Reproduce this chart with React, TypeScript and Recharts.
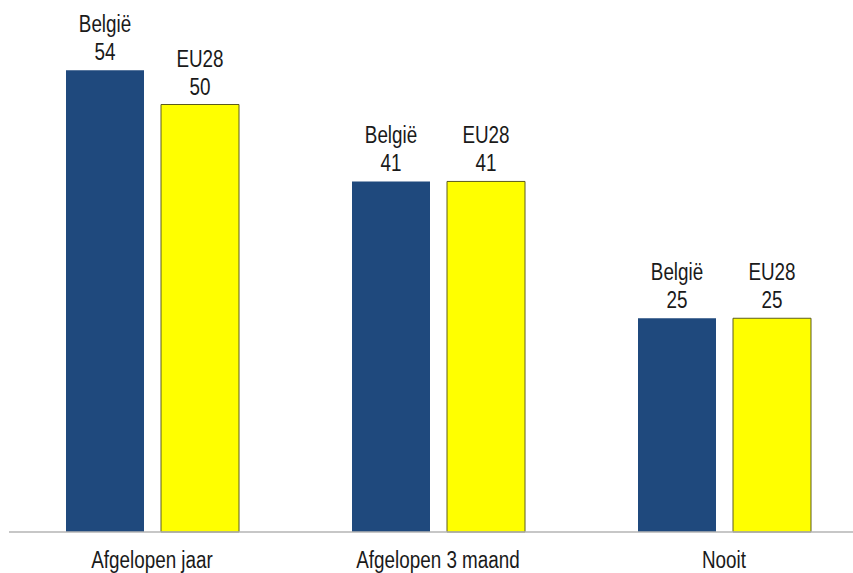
import { BarChart, Bar, XAxis, YAxis, LabelList } from "recharts";

const categories = ["Afgelopen jaar", "Afgelopen 3 maand", "Nooit"];
const belgie = [54, 41, 25];
const eu28 = [50, 41, 25];
const seriesNames = ["België", "EU28"];

// no narrow font installed: squeeze Liberation Sans horizontally instead
const FONT = '"Liberation Sans", Arial, sans-serif';
const NARROW = 0.82;
const FONT_SIZE = 23;
const TEXT = "#1a1a1a";

const data = categories.map((cat, i) => ({
  cat,
  belgie: belgie[i],
  eu28: eu28[i],
}));

function NarrowText({ x, y, children }: { x: number; y: number; children: any }) {
  return (
    <text
      transform={`translate(${x},${y}) scale(${NARROW},1)`}
      x={0}
      y={0}
      textAnchor="middle"
      fill={TEXT}
      fontSize={FONT_SIZE}
      fontFamily={FONT}
    >
      {children}
    </text>
  );
}

// two-line label above each bar: series name, then value
function makeLabel(name: string) {
  return (props: any) => {
    const { x, y, width, value } = props;
    const cx = x + width / 2;
    return (
      <g>
        <NarrowText x={cx} y={y - 38}>{name}</NarrowText>
        <NarrowText x={cx} y={y - 10}>{value}</NarrowText>
      </g>
    );
  };
}

function CategoryTick(props: any) {
  const { x, y, payload } = props;
  return <NarrowText x={x} y={y + 28}>{payload.value}</NarrowText>;
}

export default function App() {
  return (
    <div
      style={{
        position: "absolute",
        left: 0,
        top: 0,
        width: 853,
        height: 573,
        overflow: "hidden",
        background: "#fff",
      }}
    >
      <BarChart
        width={870}
        height={573}
        data={data}
        margin={{ top: 19, right: 3, bottom: 0, left: 9 }}
        barCategoryGap={57}
        barGap={17}
      >
        <XAxis
          dataKey="cat"
          axisLine={{ stroke: "#b5b5b5", strokeWidth: 1.5 }}
          tickLine={false}
          tick={<CategoryTick />}
          height={41}
          interval={0}
        />
        <YAxis hide domain={[0, 60]} />
        <Bar dataKey="belgie" fill="#1f497d" isAnimationActive={false}>
          <LabelList dataKey="belgie" content={makeLabel(seriesNames[0])} />
        </Bar>
        <Bar dataKey="eu28" fill="#ffff00" stroke="#5c5c1c" strokeWidth={1} isAnimationActive={false}>
          <LabelList dataKey="eu28" content={makeLabel(seriesNames[1])} />
        </Bar>
      </BarChart>
    </div>
  );
}
